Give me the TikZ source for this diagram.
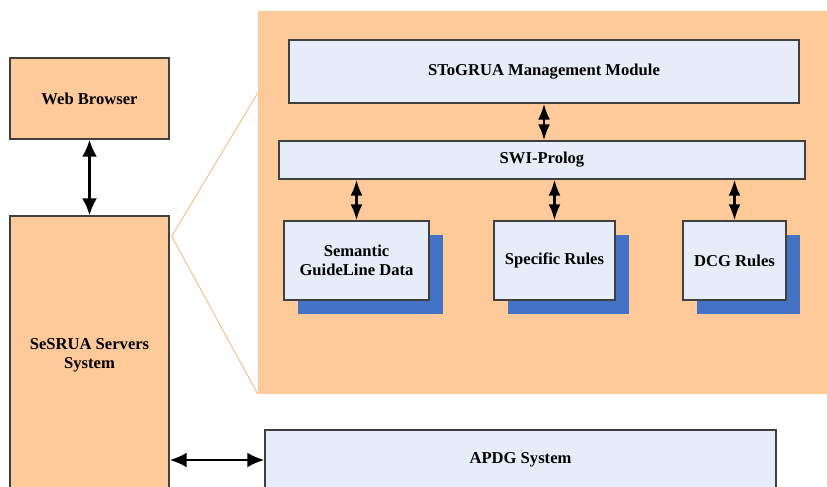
\documentclass[tikz,border=0pt]{standalone}
\usepackage{fontspec}
\setmainfont{Liberation Serif}
\usepackage{tikz}
\usetikzlibrary{arrows.meta,shadows}
\definecolor{tan}{HTML}{FFCA99}
\definecolor{pale}{HTML}{E6ECF8}
\definecolor{shade}{HTML}{4472C4}
\definecolor{edge}{HTML}{404040}
\definecolor{funnel}{HTML}{F2BC8C}

\begin{document}
\begin{tikzpicture}[x=1pt,y=-1pt,
  box/.style={rectangle,draw=edge,line width=1.4pt,fill=pale,align=center,
    font=\fontsize{16.6}{19}\selectfont\bfseries,inner sep=0pt},
  outer/.style={box,fill=tan},
  stack/.style={box,general shadow={fill=shade,shadow xshift=14pt,shadow yshift=-14pt}},
  link/.style={line width=2.6pt,{Latex[length=17pt,width=15pt]}-{Latex[length=17pt,width=15pt]}},
  short/.style={line width=2.4pt,{Latex[length=16pt,width=12pt]}-{Latex[length=16pt,width=12pt]}}]
\useasboundingbox (0,0) rectangle (827,487);
\node [rectangle,fill=tan,minimum width=569pt,minimum height=383pt] (z) at (542.5,202.5) {};
\node [outer,minimum width=159pt,minimum height=81pt] (w) at (89.5,98.5) {Web Browser};
\node [outer,minimum width=159pt,minimum height=278pt] (s) at (89.5,355) {SeSRUA Servers\\System};
\node [box,minimum width=510pt,minimum height=63pt] (m) at (544,71.5) {SToGRUA Management Module};
\node [box,minimum width=526pt,minimum height=38pt] (p) at (542,160) {SWI-Prolog};
\node [stack,minimum width=145pt,minimum height=79pt] (a) at (356.5,260.5) {Semantic\\GuideLine Data};
\node [stack,minimum width=121pt,minimum height=79pt] (b) at (554.5,260.5) {Specific Rules};
\node [stack,minimum width=103pt,minimum height=79pt] (c) at (734.5,260.5) {DCG Rules};
\node [box,minimum width=511pt,minimum height=60pt] (d) at (520.5,460) {APDG System};
\coordinate (q) at ([shift={(2pt,-21pt)}]s.north east);
\draw [funnel,line width=0.9pt] ([yshift=-82pt]z.north west) -- (q) -- (z.south west);
\draw [link] (w) -- (s);
\draw [short] (m) -- (m.south |- p.north);
\draw [short] (a.north |- p.south) -- (a);
\draw [short] (b.north |- p.south) -- (b);
\draw [short] (c.north |- p.south) -- (c);
\draw [link] (s.east |- d.west) -- (d);
\end{tikzpicture}
\end{document}
